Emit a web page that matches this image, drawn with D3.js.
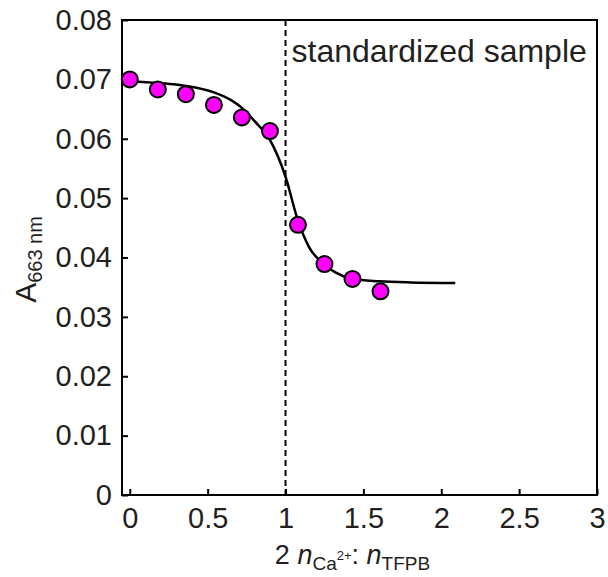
<!DOCTYPE html>
<html>
<head>
<meta charset="utf-8">
<script src="https://cdn.jsdelivr.net/npm/d3@7"></script>
<style>
  body { margin: 0; background: #fff; }
  text { font-family: "Liberation Sans", Arial, sans-serif; fill: #231f20; }
</style>
</head>
<body>
<div id="chart"></div>
<script>
// measured points
var ratio = [0, 0.18, 0.36, 0.54, 0.72, 0.90, 1.08, 1.25, 1.43, 1.61]
var absorb = [0.0700, 0.0683, 0.0675, 0.0657, 0.0636, 0.0613, 0.0455, 0.0389, 0.0364, 0.0343]

// fitted curve
var fitX = [0, 0.18, 0.36, 0.54, 0.65, 0.72, 0.80, 0.90, 1.00, 1.08, 1.15, 1.25, 1.32, 1.43, 1.60, 1.80, 2.09]
var fitY = [0.0697, 0.0694, 0.0689, 0.0678, 0.0665, 0.0652, 0.0630, 0.0598, 0.0536, 0.0462, 0.0418, 0.0388, 0.0375, 0.0364, 0.0360, 0.0358, 0.0357]

var xTicks = [0, 0.5, 1, 1.5, 2, 2.5, 3]
var yTicks = [0, 0.01, 0.02, 0.03, 0.04, 0.05, 0.06, 0.07, 0.08]
var markLine = 1

var W = 608, H = 577
var margin = {top: 20, right: 11, bottom: 82, left: 122},
    width = W - margin.left - margin.right,
    height = H - margin.top - margin.bottom

var svg = d3.select("#chart").append("svg")
    .attr("width", W)
    .attr("height", H)
  .append("g")
    .attr("transform", "translate(" + margin.left + "," + margin.top + ")")

var x = d3.scaleLinear().domain([-0.05, 3]).range([0, width])
var y = d3.scaleLinear().domain([0, 0.08]).range([height, 0])

// frame
svg.append("rect")
    .attr("width", width).attr("height", height)
    .attr("fill", "none").attr("stroke", "#000").attr("stroke-width", 2)

// axes with inward ticks
var xAxis = svg.append("g")
    .attr("transform", "translate(0," + height + ")")
    .call(d3.axisBottom(x).tickValues(xTicks).tickSizeInner(-6).tickSizeOuter(0).tickPadding(12)
      .tickFormat(function(d) { return d3.format("~g")(d) }))
xAxis.select(".domain").remove()
xAxis.selectAll("line").attr("stroke", "#000").attr("stroke-width", 2)
xAxis.selectAll("text").style("font-size", "29px").attr("fill", "#231f20")

var yAxis = svg.append("g")
    .call(d3.axisLeft(y).tickValues(yTicks).tickSizeInner(-6).tickSizeOuter(0).tickPadding(10)
      .tickFormat(function(d) { return d == 0 ? "0" : d3.format(".2f")(d) }))
yAxis.select(".domain").remove()
yAxis.selectAll("line").attr("stroke", "#000").attr("stroke-width", 2)
yAxis.selectAll("text").style("font-size", "29px").attr("fill", "#231f20")

// dashed reference line
svg.append("line")
    .attr("x1", x(markLine)).attr("x2", x(markLine))
    .attr("y1", 0).attr("y2", height)
    .attr("stroke", "#000").attr("stroke-width", 2)
    .attr("stroke-dasharray", "6,4")

svg.append("text")
    .attr("x", x(markLine) + 6)
    .attr("y", 42)
    .style("font-size", "32px")
    .text("standardized sample")

// fitted curve
var fit = fitX.map(function(d, i) { return [d, fitY[i]] })
svg.append("path")
    .datum(fit)
    .attr("fill", "none")
    .attr("stroke", "#000")
    .attr("stroke-width", 2.5)
    .attr("d", d3.line()
      .x(function(d) { return x(d[0]) })
      .y(function(d) { return y(d[1]) })
      .curve(d3.curveMonotoneX))

// points
svg.selectAll(".dot")
    .data(ratio.map(function(d, i) { return {r: d, a: absorb[i]} }))
    .enter().append("circle")
    .attr("class", "dot")
    .attr("cx", function(d) { return x(d.r) })
    .attr("cy", function(d) { return y(d.a) })
    .attr("r", 8)
    .attr("fill", "#ff00ff")
    .attr("stroke", "#000")
    .attr("stroke-width", 2)

// x title
var xt = svg.append("text")
    .attr("x", width / 2 - 7)
    .attr("y", height + 69)
    .attr("text-anchor", "middle")
    .style("font-size", "27px")
xt.append("tspan").text("2 ")
xt.append("tspan").style("font-style", "italic").text("n")
xt.append("tspan").attr("dy", 6).style("font-size", "19px").text("Ca")
xt.append("tspan").attr("dy", -10).style("font-size", "13px").text("2+")
xt.append("tspan").attr("dy", 4).text(": ")
xt.append("tspan").style("font-style", "italic").text("n")
xt.append("tspan").attr("dy", 6).style("font-size", "19px").text("TFPB")

// y title
var yt = svg.append("text")
    .attr("transform", "translate(" + (-margin.left + 36) + "," + (height / 2 + 2) + ") rotate(-90)")
    .attr("text-anchor", "middle")
    .style("font-size", "30px")
yt.append("tspan").text("A")
yt.append("tspan").attr("dy", 6).style("font-size", "20px").text("663 nm")
</script>
</body>
</html>
